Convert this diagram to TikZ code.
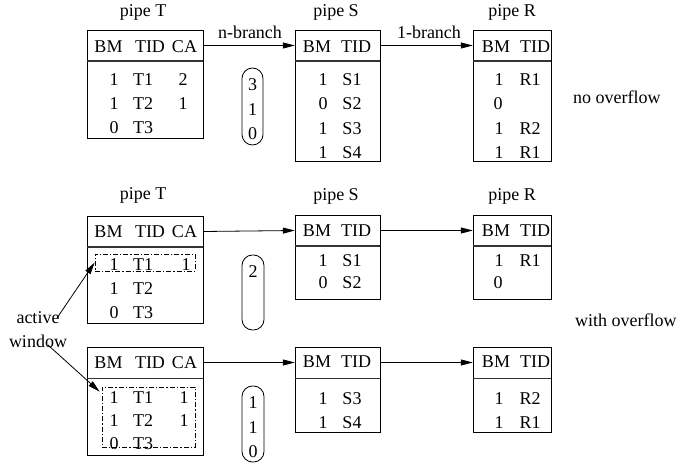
\documentclass[tikz,border=0pt]{standalone}
\usepackage{fontspec}
\setmainfont{Liberation Serif}
\usetikzlibrary{arrows.meta,fit}

% A pipe table: name, left x, right x, top y, bottom y (header band is 31 units tall)
\newcommand{\pipetable}[5]{%
  \node[frame, fit={(#2,#4) (#3,#5)}] (#1) {};
  \node[inner sep=0pt, fit={(#2,#4) (#3,#4+31)}] (#1h) {};
  \draw[sep] (#1h.south west) -- (#1h.south east);
}

\begin{document}
\begin{tikzpicture}[x=1pt,y=-1pt,
  font=\fontsize{18}{24}\selectfont,
  frame/.style={draw, line width=0.8pt, inner sep=0pt},
  sep/.style={line width=1.4pt, black!80},
  txt/.style={inner sep=0pt},
  link/.style={line width=0.8pt, -{Triangle[length=12pt,width=6pt]}},
  win/.style={draw, line width=0.7pt, dash pattern=on 5pt off 2pt on 1.2pt off 2pt, inner sep=0pt},
  pill/.style={draw, line width=0.8pt, rounded corners=10.5pt, inner sep=0pt}]
\useasboundingbox (0,0) rectangle (678,465);

% ---------- first row: no overflow ----------
\node[txt] (lT1) at (143,12) {pipe T};
\node[txt] (lS1) at (336,12) {pipe S};
\node[txt] (lR1) at (512,12) {pipe R};

\pipetable{T1}{87}{203}{30}{138}
\pipetable{S1}{295}{380}{30}{161}
\pipetable{R1}{473}{551}{30}{161}

\node[txt] (T1a) at (108.5,47) {BM};
\node[txt] (T1b) at (150,47) {TID};
\node[txt] (T1c) at (184.5,47) {CA};
\node[txt] (T1r1a) at (114,80) {1};  \node[txt] (T1r1b) at (143,80) {T1};  \node[txt] (T1r1c) at (183,80) {2};
\node[txt] (T1r2a) at (114,104) {1}; \node[txt] (T1r2b) at (143,104) {T2}; \node[txt] (T1r2c) at (183,104) {1};
\node[txt] (T1r3a) at (114,128) {0}; \node[txt] (T1r3b) at (143,128) {T3};

\node[txt] (S1a) at (317,47) {BM};
\node[txt] (S1b) at (356,47) {TID};
\node[txt] (S1r1a) at (323,80) {1};  \node[txt] (S1r1b) at (352,80) {S1};
\node[txt] (S1r2a) at (323,104) {0}; \node[txt] (S1r2b) at (352,104) {S2};
\node[txt] (S1r3a) at (323,129) {1}; \node[txt] (S1r3b) at (352,129) {S3};
\node[txt] (S1r4a) at (323,153) {1}; \node[txt] (S1r4b) at (352,153) {S4};

\node[txt] (R1a) at (496,47) {BM};
\node[txt] (R1b) at (535,47) {TID};
\node[txt] (R1r1a) at (499,80) {1};  \node[txt] (R1r1b) at (530,80) {R1};
\node[txt] (R1r2a) at (498,104) {0};
\node[txt] (R1r3a) at (499,129) {1}; \node[txt] (R1r3b) at (530,129) {R2};
\node[txt] (R1r4a) at (499,153) {1}; \node[txt] (R1r4b) at (530,153) {R1};

\node[pill, fit={(242,68) (263,145)}] (P1) {};
\node[txt] (P1a) at (252.5,85) {3};
\node[txt] (P1b) at (252.5,110) {1};
\node[txt] (P1c) at (252.5,134) {0};

\draw[link] (T1h.east) -- (S1h.west);
\draw[link] (S1h.east) -- (R1h.west);
\node[txt] (nb) at (250,32) {n-branch};
\node[txt] (ob) at (429,32) {1-branch};

\node[txt, anchor=west] (noov) at (573,97) {no overflow};

% ---------- second row: with overflow, first window ----------
\node[txt] (lT2) at (143,195) {pipe T};
\node[txt] (lS2) at (336,196) {pipe S};
\node[txt] (lR2) at (512,196) {pipe R};

\pipetable{T2}{87}{203}{216}{323}
\pipetable{S2}{295}{380}{215}{299}
\pipetable{R2}{473}{551}{215}{299}

\node[txt] (T2a) at (108.5,232) {BM};
\node[txt] (T2b) at (150,232) {TID};
\node[txt] (T2c) at (184.5,232) {CA};
\node[txt] (T2r1a) at (114,265) {1}; \node[txt] (T2r1b) at (143,265) {T1}; \node[txt] (T2r1c) at (186,265) {1};
\node[txt] (T2r2a) at (114,289) {1}; \node[txt] (T2r2b) at (143,289) {T2};
\node[txt] (T2r3a) at (114,313) {0}; \node[txt] (T2r3b) at (143,313) {T3};
\node[win, fit={(95,254) (195,271)}] (W1) {};

\node[txt] (S2a) at (317,231) {BM};
\node[txt] (S2b) at (356,231) {TID};
\node[txt] (S2r1a) at (323,261) {1}; \node[txt] (S2r1b) at (352,261) {S1};
\node[txt] (S2r2a) at (323,283) {0}; \node[txt] (S2r2b) at (352,283) {S2};

\node[txt] (R2a) at (496,231) {BM};
\node[txt] (R2b) at (535,231) {TID};
\node[txt] (R2r1a) at (499,261) {1}; \node[txt] (R2r1b) at (530,261) {R1};
\node[txt] (R2r2a) at (498,283) {0};

\node[pill, fit={(242,255) (264,330)}] (P2) {};
\node[txt] (P2a) at (253,272) {2};

\draw[link] (T2h.east) -- (S2h.west);
\draw[link] (S2h.east) -- (R2h.west);

\node[txt, anchor=west] (wov) at (575,320) {with overflow};

% ---------- third row: with overflow, second window ----------
\pipetable{T3}{87}{203}{347}{455}
\pipetable{S3}{295}{380}{347}{432}
\pipetable{R3}{473}{551}{347}{432}

\node[txt] (T3a) at (108.5,363) {BM};
\node[txt] (T3b) at (150,363) {TID};
\node[txt] (T3c) at (184.5,363) {CA};
\node[txt] (T3r1a) at (114,398) {1}; \node[txt] (T3r1b) at (143,398) {T1}; \node[txt] (T3r1c) at (184,398) {1};
\node[txt] (T3r2a) at (114,421) {1}; \node[txt] (T3r2b) at (143,421) {T2}; \node[txt] (T3r2c) at (184,421) {1};
\node[txt] (T3r3a) at (114,444) {0}; \node[txt] (T3r3b) at (143,444) {T3};
\node[win, fit={(102,387) (195,447)}] (W2) {};

\node[txt] (S3a) at (317,362) {BM};
\node[txt] (S3b) at (356,362) {TID};
\node[txt] (S3r1a) at (323,399) {1}; \node[txt] (S3r1b) at (352,399) {S3};
\node[txt] (S3r2a) at (323,423) {1}; \node[txt] (S3r2b) at (352,423) {S4};

\node[txt] (R3a) at (496,362) {BM};
\node[txt] (R3b) at (535,362) {TID};
\node[txt] (R3r1a) at (499,399) {1}; \node[txt] (R3r1b) at (530,399) {R2};
\node[txt] (R3r2a) at (499,423) {1}; \node[txt] (R3r2b) at (530,423) {R1};

\node[pill, fit={(242,386) (264,462)}] (P3) {};
\node[txt] (P3a) at (253,403) {1};
\node[txt] (P3b) at (253,428) {1};
\node[txt] (P3c) at (253,452) {0};

\draw[link] (T3h.east) -- (S3h.west);
\draw[link] (S3h.east) -- (R3h.west);

% ---------- active window pointers ----------
\node[txt, align=center] (aw) at (38,330) {active\\window};
\coordinate (aw1) at (57,318);
\coordinate (aw2) at (48,345);
\draw[link] (aw1) -- (W1.west);
\draw[link] (aw2) -- ([xshift=-2pt,yshift=-5pt]W2.north west);
\end{tikzpicture}
\end{document}
